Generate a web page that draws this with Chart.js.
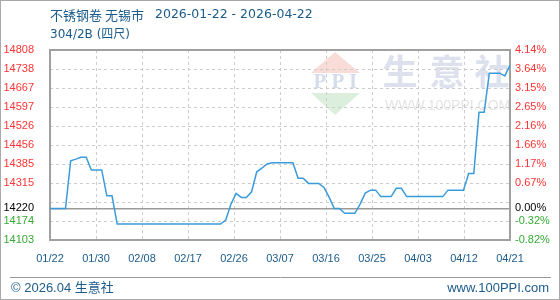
<!DOCTYPE html>
<html>
<head>
<meta charset="utf-8">
<script src="https://cdn.jsdelivr.net/npm/chart.js@4.4.1/dist/chart.umd.min.js"></script>
<style>
  html, body { margin: 0; padding: 0; background: #fff; }
</style>
</head>
<body>
<canvas id="priceChart" width="560" height="300"></canvas>
<script>
"use strict";
const titleProduct = '不锈钢卷 无锡市';
const titleDates = '2026-01-22 - 2026-04-22';
const titleLine2 = '304/2B (四尺)';
const footerLeft = '© 2026.04 生意社';
const footerRight = 'www.100PPI.com';
const basePrice = 14220;

// daily price, 01/22 .. 04/22
const prices = [
    14220, 14220, 14220, 14220, 14397, 14403, 14410, 14410, 14363, 14363,
    14363, 14267, 14267, 14162, 14162, 14162, 14162, 14162, 14162, 14162,
    14162, 14162, 14162, 14162, 14162, 14162, 14162, 14162, 14162, 14162,
    14162, 14162, 14162, 14162, 14177, 14236, 14276, 14261, 14261, 14282,
    14356, 14370, 14385, 14390, 14390, 14390, 14390, 14390, 14332, 14332,
    14313, 14313, 14313, 14298, 14262, 14220, 14220, 14202, 14202, 14202,
    14236, 14277, 14288, 14288, 14264, 14264, 14264, 14295, 14295, 14264,
    14264, 14264, 14264, 14264, 14264, 14264, 14264, 14288, 14288, 14288,
    14288, 14350, 14350, 14577, 14577, 14722, 14722, 14722, 14712, 14752
];
const xTickLabels = ['01/22', '01/30', '02/08', '02/17', '02/26', '03/07', '03/16', '03/25', '04/03', '04/12', '04/21'];
const yTickValues = [14103, 14173.5, 14220, 14244, 14314.5, 14385, 14455.5, 14526, 14596.5, 14667, 14737.5, 14808];
const leftTickLabels = ['14103', '14174', '14220', '', '14315', '14385', '14456', '14526', '14597', '14667', '14738', '14808'];
const rightTickLabels = ['-0.82%', '-0.32%', '0.00%', '', '0.67%', '1.17%', '1.66%', '2.16%', '2.65%', '3.15%', '3.64%', '4.14%'];

const blueText = '#1b5b8b';
const fontFamily = '"Liberation Sans", Arial, "Noto Sans CJK SC", sans-serif';
const titleFamily = '"DejaVu Sans", "Noto Sans CJK SC", sans-serif';

function tickColor(ctx) {
    const v = ctx.tick ? ctx.tick.value : 0;
    if (v > basePrice) return '#ff3333';
    if (v < basePrice) return '#33aa33';
    return '#000000';
}

const decorPlugin = {
    id: 'decor',
    beforeDraw(chart) {
        const c = chart.ctx;
        c.save();
        // watermark
        c.fillStyle = '#f9dcd8';
        c.beginPath();
        c.moveTo(335, 52); c.lineTo(360, 73); c.lineTo(311, 73); c.closePath();
        c.fill();
        c.fillStyle = '#dcefdc';
        c.beginPath();
        c.moveTo(311, 93); c.lineTo(360, 93); c.lineTo(335, 115); c.closePath();
        c.fill();
        c.fillStyle = '#d5dcea';
        c.font = 'bold 21px "Liberation Serif", serif';
        c.textAlign = 'center';
        c.textBaseline = 'middle';
        c.fillText('P', 320, 83);
        c.fillText('P', 338, 83);
        c.fillText('I', 353, 83);
        c.fillStyle = '#dde1ed';
        c.font = 'bold 35px "Noto Sans CJK SC", sans-serif';
        c.fillText('生', 400, 72);
        c.fillText('意', 447, 72);
        c.fillText('社', 492, 72);
        c.fillStyle = '#e4e4e4';
        c.font = '14px ' + fontFamily;
        c.textAlign = 'left';
        c.fillText('WWW.100PPI.COM', 385, 106);
        c.restore();
    },
    beforeDatasetsDraw(chart) {
        const c = chart.ctx;
        const a = chart.chartArea;
        c.save();
        c.strokeStyle = '#a0a0a0';
        c.lineWidth = 2;
        c.strokeRect(a.left, a.top, a.right - a.left, a.bottom - a.top);
        c.restore();
    },
    afterDraw(chart) {
        const c = chart.ctx;
        c.save();
        c.fillStyle = blueText;
        c.textAlign = 'left';
        c.textBaseline = 'middle';
        c.font = '13px "Noto Sans CJK SC", sans-serif';
        c.fillText(titleProduct, 50, 15);
        c.font = '12.5px ' + titleFamily;
        c.fillText(titleDates, 155, 15);
        c.font = '12px ' + titleFamily;
        c.fillText(titleLine2, 50, 35);
        c.font = '13px ' + fontFamily;
        c.fillText(footerLeft, 11, 288);
        c.textAlign = 'right';
        c.fillText(footerRight, 549, 288);
        c.strokeStyle = '#999999';
        c.lineWidth = 1;
        c.beginPath();
        c.moveTo(10, 277.5); c.lineTo(551, 277.5);
        c.stroke();
        c.strokeStyle = '#aaaaaa';
        c.strokeRect(0.5, 0.5, 559, 299);
        c.restore();
    }
};

const canvas = document.getElementById('priceChart');
new Chart(canvas.getContext('2d'), {
    type: 'line',
    data: {
        datasets: [{
            data: prices.map((p, i) => ({ x: i, y: p })),
            borderColor: '#3a9bdc',
            borderWidth: 1.5,
            pointRadius: 0,
            fill: false,
            tension: 0
        }]
    },
    options: {
        responsive: false,
        animation: false,
        layout: { padding: { top: 50, bottom: 0, left: 0, right: 0 } },
        plugins: { legend: { display: false }, tooltip: { enabled: false } },
        scales: {
            x: {
                type: 'linear',
                min: 0,
                max: prices.length - 1,
                afterBuildTicks: scale => {
                    const step = (prices.length - 1) / (xTickLabels.length - 1);
                    scale.ticks = xTickLabels.map((_, k) => ({ value: k * step }));
                },
                afterFit: scale => { scale.height = 60; },
                ticks: {
                    autoSkip: false,
                    maxRotation: 0,
                    padding: 12,
                    color: blueText,
                    font: { family: fontFamily, size: 11 },
                    callback: (v, i) => xTickLabels[i]
                },
                grid: { color: '#cccccc', drawTicks: false },
                border: { display: false, dash: [3, 3] }
            },
            y: {
                position: 'left',
                min: 14103,
                max: 14808,
                afterBuildTicks: scale => {
                    scale.ticks = yTickValues.map(v => ({ value: v }));
                },
                afterFit: scale => { scale.width = 50; },
                ticks: {
                    autoSkip: false,
                    padding: 16,
                    color: tickColor,
                    font: { family: fontFamily, size: 11 },
                    callback: (v, i) => leftTickLabels[i]
                },
                grid: {
                    drawTicks: false,
                    color: ctx => (ctx.tick && ctx.tick.value === basePrice ? '#999999' : '#cccccc'),
                    lineWidth: ctx => (ctx.tick && ctx.tick.value === basePrice ? 1.5 : 1)
                },
                border: {
                    display: false,
                    dash: ctx => (ctx.tick && ctx.tick.value === basePrice ? [] : [3, 3])
                }
            },
            y2: {
                position: 'right',
                min: 14103,
                max: 14808,
                afterBuildTicks: scale => {
                    scale.ticks = yTickValues.map(v => ({ value: v }));
                },
                afterFit: scale => { scale.width = 50; },
                ticks: {
                    autoSkip: false,
                    padding: 5,
                    color: tickColor,
                    font: { family: fontFamily, size: 11 },
                    callback: (v, i) => rightTickLabels[i]
                },
                grid: { display: false, drawTicks: false },
                border: { display: false }
            }
        }
    },
    plugins: [decorPlugin]
});
</script>
</body>
</html>
